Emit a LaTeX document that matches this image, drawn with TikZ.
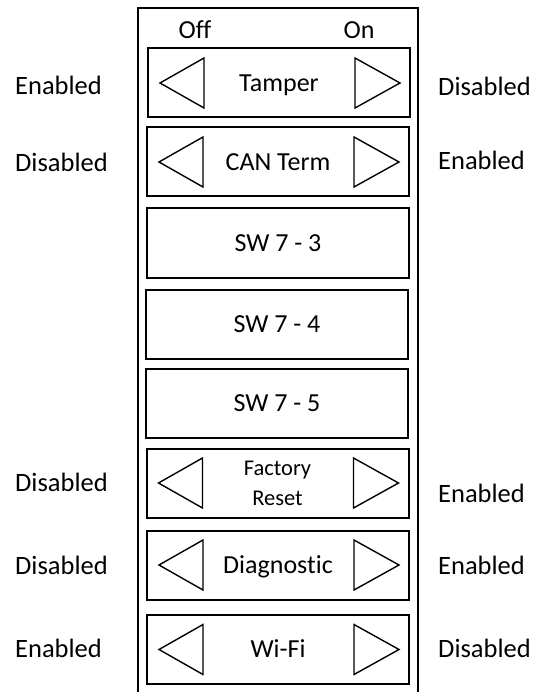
\documentclass[tikz,border=0pt]{standalone}
\usepackage{fontspec}
\setmainfont[Ligatures={NoCommon}]{Carlito}
\begin{document}
\begin{tikzpicture}[x=1pt,y=-1pt,
  sw/.style={draw, line width=2pt, minimum width=262pt, minimum height=69pt, inner sep=0pt, font=\fontsize{26}{30}\selectfont},
  swone/.style={sw, text height=16.8pt, text depth=0pt},
  tri/.style={draw, line width=1.4pt, line join=miter},
  lbl/.style={anchor=west, inner sep=0pt, font=\fontsize{26.5}{30}\selectfont},
  hdr/.style={inner sep=0pt, font=\fontsize{26}{30}\selectfont}]
\useasboundingbox (0,0) rectangle (534,692);
% outer frame (open at the bottom)
\draw[line width=2pt] (138,693) -- (138,8) -- (418,8) -- (418,693);
\node[hdr] (off) at (195,30) {Off};
\node[hdr] (on) at (359,30) {On};
% switch boxes
\node[swone] (b1) at (279,83) {Tamper};
\node[swone] (b2) at (278,162) {CAN Term};
\node[swone] (b3) at (278,243) {SW 7 - 3};
\node[swone] (b4) at (277,324.5) {SW 7 - 4};
\node[swone] (b5) at (277,403.5) {SW 7 - 5};
\node[sw, font=\fontsize{22.5}{30}\selectfont, align=center] (b6) at (277.5,483) {Factory\\Reset};
\node[swone] (b7) at (278,565) {Diagnostic};
\node[swone] (b8) at (278,649.5) {Wi-Fi};
% triangles
\foreach \b in {b1,b2,b6,b7,b8}{
  \draw[tri] ([xshift=13pt]\b.west) -- ([xshift=57pt,yshift=25pt]\b.west) -- ([xshift=57pt,yshift=-25pt]\b.west) -- cycle;
  \draw[tri] ([xshift=-11pt]\b.east) -- ([xshift=-56pt,yshift=25pt]\b.east) -- ([xshift=-56pt,yshift=-25pt]\b.east) -- cycle;
}
% side labels
\node[lbl] (l1) at (15,85) {Enabled};
\node[lbl] (r1) at (438,86) {Disabled};
\node[lbl] (l2) at (15,162) {Disabled};
\node[lbl] (r2) at (438,160) {Enabled};
\node[lbl] (l6) at (15,482) {Disabled};
\node[lbl] (r6) at (438,493) {Enabled};
\node[lbl] (l7) at (15,565) {Disabled};
\node[lbl] (r7) at (438,565) {Enabled};
\node[lbl] (l8) at (15,648) {Enabled};
\node[lbl] (r8) at (438,648) {Disabled};
\end{tikzpicture}
\end{document}
